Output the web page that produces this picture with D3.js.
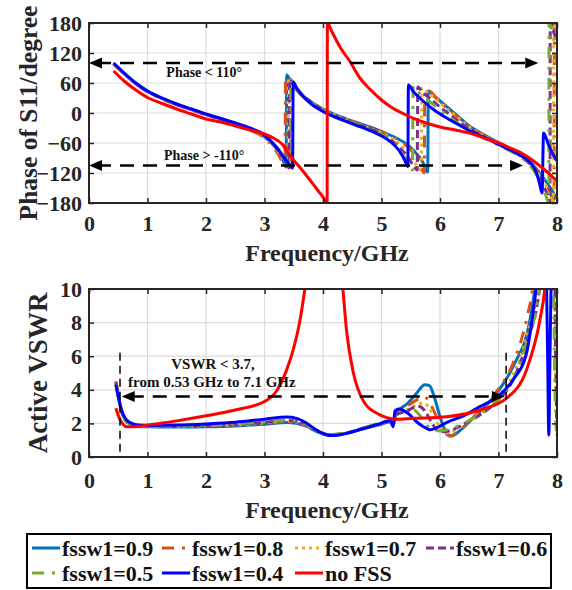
<!DOCTYPE html>
<html>
<head>
<meta charset="utf-8">
<script src="https://cdn.jsdelivr.net/npm/d3@7"></script>
<style>
body { margin: 0; background: #fff; }
svg { display: block; font-family: "Liberation Serif", "Times New Roman", serif; font-weight: bold; }
</style>
</head>
<body>
<svg id="fig" width="572" height="590"></svg>
<script>
// ---- data ----
const series_names = ['fssw1=0.9', 'fssw1=0.8', 'fssw1=0.7', 'fssw1=0.6', 'fssw1=0.5', 'fssw1=0.4', 'no FSS'];
const freq_ticks = [0, 1, 2, 3, 4, 5, 6, 7, 8];
const phase_ticks = [-180, -120, -60, 0, 60, 120, 180];
const vswr_ticks = [0, 2, 4, 6, 8, 10];

// phase of S11 (degree) vs frequency (GHz)
const phase09 = [[0.42,98],[0.6,79],[0.8,59],[1.0,43],[1.25,29],[1.5,17],[1.75,7],[2.0,-3],[2.25,-12],[2.5,-21],[2.75,-32],[3.0,-48],[3.12,-60],[3.25,-80],[3.33,-98],[3.37,-108],[3.38,76],[3.45,62],[3.6,40],[3.8,22],[4.0,8],[4.2,-3],[4.4,-12],[4.6,-20],[4.8,-28],[5.0,-37],[5.2,-47],[5.4,-60],[5.55,-75],[5.7,-97],[5.79,-118],[5.8,44],[5.9,34],[6.1,14],[6.3,-6],[6.5,-26],[6.7,-40],[6.9,-53],[7.1,-65],[7.3,-78],[7.5,-94],[7.65,-112],[7.78,-132],[7.9,-152],[8.0,-172]];
const phase08 = [[0.42,97],[0.6,78],[0.8,58],[1.0,42],[1.25,28],[1.5,16],[1.75,6],[2.0,-4],[2.25,-13],[2.5,-22],[2.75,-34],[3.0,-50],[3.12,-64],[3.24,-84],[3.31,-100],[3.35,-108],[3.36,72],[3.45,60],[3.6,39],[3.8,21],[4.0,7],[4.2,-4],[4.4,-13],[4.6,-21],[4.8,-29],[5.0,-38],[5.2,-48],[5.4,-62],[5.55,-80],[5.65,-98],[5.73,-120],[5.74,46],[5.82,44],[5.95,28],[6.1,12],[6.3,-8],[6.5,-27],[6.7,-41],[6.9,-54],[7.1,-66],[7.3,-79],[7.5,-95],[7.65,-114],[7.78,-136],[7.88,-158],[7.95,-180],[7.955,180],[8.0,140]];
const phase07 = [[0.42,98],[0.6,79],[0.8,59],[1.0,43],[1.25,29],[1.5,17],[1.75,7],[2.0,-3],[2.25,-12],[2.5,-21],[2.75,-32],[3.0,-47],[3.12,-60],[3.25,-80],[3.35,-100],[3.4,-110],[3.41,70],[3.5,56],[3.65,36],[3.8,22],[4.0,7],[4.2,-4],[4.4,-13],[4.6,-22],[4.8,-31],[5.0,-40],[5.2,-52],[5.35,-66],[5.5,-86],[5.62,-108],[5.68,-116],[5.69,50],[5.78,42],[5.95,26],[6.1,10],[6.3,-9],[6.5,-28],[6.7,-42],[6.9,-55],[7.1,-67],[7.3,-80],[7.5,-96],[7.65,-116],[7.78,-138],[7.88,-162],[7.94,-180],[7.945,180],[8.0,150]];
const phase06 = [[0.42,99],[0.6,79],[0.8,59],[1.0,43],[1.25,29],[1.5,17],[1.75,7],[2.0,-3],[2.25,-12],[2.5,-21],[2.75,-31],[3.0,-46],[3.12,-58],[3.25,-76],[3.36,-98],[3.42,-110],[3.43,68],[3.52,54],[3.66,35],[3.8,22],[4.0,6],[4.2,-5],[4.4,-14],[4.6,-23],[4.8,-32],[5.0,-42],[5.15,-53],[5.3,-68],[5.45,-88],[5.55,-106],[5.61,-114],[5.62,52],[5.7,42],[5.85,27],[6.0,12],[6.2,-6],[6.4,-24],[6.6,-38],[6.8,-50],[7.0,-62],[7.2,-74],[7.4,-88],[7.55,-104],[7.68,-124],[7.78,-148],[7.85,-168],[7.88,-180],[7.885,180],[7.95,160],[8.0,140]];
const phase05 = [[0.42,99],[0.6,80],[0.8,60],[1.0,44],[1.25,30],[1.5,18],[1.75,8],[2.0,-2],[2.25,-11],[2.5,-20],[2.75,-31],[3.0,-45],[3.12,-57],[3.25,-74],[3.37,-97],[3.44,-110],[3.45,66],[3.53,53],[3.66,35],[3.8,21],[4.0,5],[4.2,-6],[4.4,-15],[4.6,-24],[4.8,-33],[5.0,-43],[5.15,-55],[5.3,-72],[5.42,-94],[5.5,-110],[5.53,-114],[5.54,54],[5.62,43],[5.78,27],[5.95,11],[6.15,-7],[6.35,-24],[6.55,-38],[6.75,-50],[6.95,-61],[7.15,-73],[7.35,-86],[7.5,-100],[7.62,-118],[7.72,-140],[7.8,-162],[7.86,-180],[7.865,180],[7.95,150],[8.0,135]];
const phase04 = [[0.42,100],[0.6,80],[0.8,60],[1.0,44],[1.25,30],[1.5,18],[1.75,8],[2.0,-2],[2.25,-11],[2.5,-20],[2.75,-30],[3.0,-44],[3.1,-55],[3.2,-68],[3.32,-87],[3.42,-102],[3.48,-110],[3.49,62],[3.55,50],[3.66,33],[3.8,18],[4.0,3],[4.2,-8],[4.4,-17],[4.6,-26],[4.8,-35],[5.0,-46],[5.15,-57],[5.3,-75],[5.4,-95],[5.45,-107],[5.46,56],[5.55,42],[5.71,24],[5.9,6],[6.1,-9],[6.28,-21],[6.5,-35],[6.7,-46],[6.85,-54],[7.0,-63],[7.2,-74],[7.42,-88],[7.55,-100],[7.65,-120],[7.7,-140],[7.745,-160],[7.77,-40],[7.85,-62],[7.92,-80],[8.0,-96]];
const phaseNoFss = [[0.42,84],[0.6,64],[0.8,46],[1.0,31],[1.25,19],[1.5,8],[1.75,-2],[2.0,-12],[2.25,-18],[2.5,-26],[2.75,-34],[3.0,-42],[3.15,-50],[3.3,-62],[3.44,-86],[3.6,-108],[3.75,-130],[3.9,-153],[4.0,-168],[4.07,-180],[4.075,180],[4.15,163],[4.3,130],[4.45,105],[4.63,70],[4.8,48],[5.0,26],[5.15,13],[5.4,-3],[5.71,-18],[6.0,-28],[6.3,-35],[6.56,-42],[6.8,-52],[7.0,-60],[7.2,-70],[7.42,-82],[7.6,-96],[7.75,-110],[7.9,-125],[8.0,-136]];

// active VSWR vs frequency (GHz); values above 10 run off the top of the axes
const vswr09 = [[0.46,4.5],[0.5,3.7],[0.56,2.7],[0.62,2.2],[0.7,1.95],[0.84,1.82],[1.0,1.8],[1.5,1.78],[2.0,1.8],[2.5,1.85],[3.0,1.95],[3.4,2.05],[3.7,1.85],[3.9,1.5],[4.1,1.3],[4.4,1.4],[4.7,1.7],[5.0,1.95],[5.15,2.1],[5.2,1.9],[5.25,2.6],[5.45,3.2],[5.6,3.8],[5.74,4.3],[5.82,4.25],[5.9,3.6],[6.0,2.4],[6.1,1.5],[6.2,1.25],[6.35,1.6],[6.5,2.1],[6.68,2.7],[6.97,3.8],[7.25,5.4],[7.54,8.2],[7.62,10],[7.7,13],[8.0,13]];
const vswr08 = [[0.46,4.5],[0.5,3.7],[0.56,2.7],[0.62,2.2],[0.7,1.97],[0.84,1.85],[1.0,1.82],[1.5,1.82],[2.0,1.85],[2.5,1.9],[3.0,2.0],[3.4,2.1],[3.7,1.9],[3.9,1.55],[4.1,1.32],[4.4,1.42],[4.7,1.72],[5.0,1.98],[5.15,2.12],[5.2,1.95],[5.25,2.6],[5.45,3.05],[5.6,3.4],[5.72,3.6],[5.8,3.4],[5.9,2.7],[6.0,1.9],[6.1,1.4],[6.17,1.25],[6.3,1.5],[6.5,2.1],[6.68,2.8],[6.97,3.9],[7.25,5.6],[7.5,8.5],[7.58,10],[7.65,13],[8.0,13]];
const vswr07 = [[0.46,4.4],[0.5,3.6],[0.56,2.7],[0.62,2.2],[0.7,1.97],[0.84,1.85],[1.0,1.83],[1.5,1.83],[2.0,1.86],[2.5,1.92],[3.0,2.03],[3.4,2.15],[3.7,1.92],[3.9,1.55],[4.1,1.32],[4.4,1.42],[4.7,1.72],[5.0,2.0],[5.15,2.14],[5.2,1.95],[5.25,2.55],[5.45,2.85],[5.6,3.1],[5.7,3.2],[5.8,3.0],[5.9,2.4],[6.0,1.75],[6.1,1.45],[6.2,1.5],[6.4,1.9],[6.68,2.6],[6.97,3.5],[7.25,4.9],[7.5,7.4],[7.66,10],[7.72,13],[7.95,13],[7.98,4],[8.0,3]];
const vswr06 = [[0.46,4.4],[0.5,3.6],[0.56,2.7],[0.62,2.2],[0.7,1.98],[0.84,1.86],[1.0,1.84],[1.5,1.85],[2.0,1.88],[2.5,1.95],[3.0,2.06],[3.4,2.18],[3.7,1.95],[3.9,1.57],[4.1,1.33],[4.4,1.43],[4.7,1.73],[5.0,2.02],[5.15,2.15],[5.2,1.95],[5.25,2.5],[5.45,2.75],[5.55,2.95],[5.65,3.0],[5.75,2.7],[5.85,2.1],[5.95,1.6],[6.05,1.5],[6.2,1.6],[6.4,1.95],[6.68,2.5],[6.97,3.3],[7.25,4.6],[7.5,7.0],[7.7,10],[7.75,13],[7.95,13],[7.98,5],[8.0,1.3]];
const vswr05 = [[0.46,4.3],[0.5,3.5],[0.56,2.7],[0.62,2.2],[0.7,1.98],[0.84,1.87],[1.0,1.85],[1.5,1.86],[2.0,1.9],[2.5,1.97],[3.0,2.08],[3.4,2.2],[3.7,1.97],[3.9,1.58],[4.1,1.33],[4.4,1.43],[4.7,1.74],[5.0,2.03],[5.15,2.16],[5.2,1.95],[5.25,2.45],[5.4,2.7],[5.55,2.8],[5.65,2.5],[5.75,2.0],[5.85,1.65],[6.0,1.55],[6.15,1.65],[6.4,2.0],[6.68,2.55],[6.97,3.3],[7.25,4.6],[7.5,7.0],[7.7,10],[7.75,13],[7.93,13],[7.96,5],[7.99,1.6],[8.0,2]];
const vswr04 = [[0.46,4.3],[0.5,3.6],[0.56,2.75],[0.62,2.3],[0.7,2.05],[0.84,1.9],[1.0,1.88],[1.5,1.9],[2.0,1.97],[2.5,2.07],[3.0,2.25],[3.38,2.38],[3.55,2.3],[3.7,2.05],[3.85,1.7],[3.97,1.45],[4.12,1.28],[4.3,1.33],[4.5,1.5],[4.8,1.8],[5.0,2.02],[5.15,2.18],[5.2,1.8],[5.23,2.75],[5.3,2.85],[5.45,2.6],[5.6,2.1],[5.71,1.82],[5.83,1.62],[5.95,1.75],[6.11,2.05],[6.4,2.45],[6.68,3.0],[6.97,3.55],[7.25,4.6],[7.48,6.2],[7.59,8.6],[7.64,10],[7.7,13],[7.8,13],[7.84,6],[7.86,1.3],[7.88,6],[7.92,13],[8.0,13]];
const vswrNoFss = [[0.46,2.9],[0.52,2.3],[0.58,1.95],[0.65,1.8],[0.75,1.8],[1.0,1.9],[1.5,2.15],[2.0,2.45],[2.5,2.8],[3.0,3.3],[3.2,3.9],[3.38,5.2],[3.5,6.5],[3.6,8.0],[3.69,10],[3.8,13],[4.2,13],[4.34,10],[4.4,7.6],[4.52,5.0],[4.68,3.4],[4.92,2.6],[5.26,2.25],[5.54,2.3],[6.11,2.4],[6.68,2.8],[7.14,3.5],[7.48,5.2],[7.71,8.2],[7.79,10],[7.85,13],[8.0,13]];

// annotation values (data units)
const phase_upper_arrow = { level: 100, from: 0, to: 7.68, label: 'Phase < 110°', label_f: 1.97, label_v: 72 };
const phase_lower_arrow = { level: -105, from: 0, to: 7.42, label: 'Phase > -110°', label_f: 1.97, label_v: -94 };
const vswr_arrow = { level: 3.6, from: 0.56, to: 7.11 };
const vswr_band = [0.53, 7.13];
const vswr_labels = ['VSWR < 3.7,', 'from 0.53 GHz to 7.1 GHz'];

// ---- styles ----
const series_colors = ['#0072BD', '#D95319', '#EDB120', '#7E2F8E', '#77AC30', '#0000FF', '#FF0000'];
const series_dashes = [null, '12,8,3,8', '3,4', '8,4', '12,8,3,8', null, null];

class PanelChart {
    constructor (config, series) {
        this.config = {
            parent: config.parent,
            left: config.left, top: config.top,
            width: config.width, height: config.height,
            ydomain: config.ydomain,
            yticks: config.yticks,
            ylabel: config.ylabel,
            ylabel_x: config.ylabel_x,
            ylabel_size: config.ylabel_size,
            xlabel_pad: config.xlabel_pad,
            xtitle_y: config.xtitle_y,
            id: config.id,
        };
        this.series = series;
        this.init();
    }

    init() {
        let self = this;
        const c = self.config;

        self.chart = c.parent.append('g')
            .attr('transform', `translate(${c.left}, ${c.top})`);

        self.xscale = d3.scaleLinear().domain([0, 8]).range([0, c.width]);
        self.yscale = d3.scaleLinear().domain(c.ydomain).range([c.height, 0]);

        c.parent.append('defs').append('clipPath')
            .attr('id', c.id)
            .append('rect')
            .attr('width', c.width)
            .attr('height', c.height);

        // grid
        self.chart.append('g').selectAll('line.vx')
            .data(freq_ticks)
            .join('line')
            .attr('x1', d => self.xscale(d)).attr('x2', d => self.xscale(d))
            .attr('y1', 0).attr('y2', c.height)
            .attr('stroke', '#dcdcdc').attr('stroke-width', 1.2);
        self.chart.append('g').selectAll('line.hy')
            .data(c.yticks)
            .join('line')
            .attr('x1', 0).attr('x2', c.width)
            .attr('y1', d => self.yscale(d)).attr('y2', d => self.yscale(d))
            .attr('stroke', '#dcdcdc').attr('stroke-width', 1.2);

        self.plot = self.chart.append('g').attr('clip-path', `url(#${c.id})`);
        self.annot = self.chart.append('g');

        // axes with inward ticks on all four sides
        const xb = d3.axisBottom(self.xscale).tickValues(freq_ticks).tickSize(-5).tickSizeOuter(0).tickPadding(c.xlabel_pad).tickFormat(d3.format('d'));
        const xt = d3.axisTop(self.xscale).tickValues(freq_ticks).tickSize(-5).tickSizeOuter(0).tickFormat('');
        const yl = d3.axisLeft(self.yscale).tickValues(c.yticks).tickSize(-5).tickSizeOuter(0).tickPadding(7).tickFormat(d3.format('d'));
        const yr = d3.axisRight(self.yscale).tickValues(c.yticks).tickSize(-5).tickSizeOuter(0).tickFormat('');

        const groups = [
            self.chart.append('g').attr('transform', `translate(0, ${c.height})`).call(xb),
            self.chart.append('g').call(xt),
            self.chart.append('g').call(yl),
            self.chart.append('g').attr('transform', `translate(${c.width}, 0)`).call(yr),
        ];
        groups.forEach(g => {
            g.select('.domain').remove();
            g.selectAll('line').attr('stroke', '#262626').attr('stroke-width', 1.5);
            g.selectAll('text')
                .attr('fill', '#262626')
                .style('font-size', '22px')
                .style('font-family', '"Liberation Serif", serif')
                .style('font-weight', 'bold');
        });

        self.chart.append('rect')
            .attr('width', c.width).attr('height', c.height)
            .attr('fill', 'none')
            .attr('stroke', '#262626').attr('stroke-width', 2);

        // titles
        c.parent.append('text')
            .attr('x', c.left + c.width / 2 + 4)
            .attr('y', c.xtitle_y)
            .attr('text-anchor', 'middle')
            .style('font-size', '24px')
            .attr('fill', '#262626')
            .text('Frequency/GHz');

        c.parent.append('text')
            .attr('transform', `translate(${c.ylabel_x}, ${c.top + c.height / 2}) rotate(-90)`)
            .attr('text-anchor', 'middle')
            .style('font-size', c.ylabel_size + 'px')
            .attr('fill', '#262626')
            .text(c.ylabel);
    }

    render() {
        let self = this;
        const line = d3.line()
            .x(d => self.xscale(d[0]))
            .y(d => self.yscale(d[1]))
            .curve(d3.curveMonotoneX);

        self.plot.selectAll('path.series')
            .data(self.series)
            .join('path')
            .attr('class', 'series')
            .attr('d', d => line(d))
            .attr('fill', 'none')
            .attr('stroke', (d, i) => series_colors[i])
            .attr('stroke-width', 3)
            .attr('stroke-dasharray', (d, i) => series_dashes[i]);
    }

    arrow(level, from, to) {
        let self = this;
        const y = self.yscale(level);
        const x0 = self.xscale(from), x1 = self.xscale(to);
        self.annot.append('line')
            .attr('x1', x0 + 8).attr('x2', x1 - 8)
            .attr('y1', y).attr('y2', y)
            .attr('stroke', '#000').attr('stroke-width', 2.5)
            .attr('stroke-dasharray', '14,9');
        const head = (tip, dir) => `M${tip},${y} L${tip - dir * 13},${y - 5.5} L${tip - dir * 13},${y + 5.5} Z`;
        self.annot.append('path').attr('d', head(x0, -1)).attr('fill', '#000');
        self.annot.append('path').attr('d', head(x1, 1)).attr('fill', '#000');
    }

    label(text, f, v, size) {
        let self = this;
        self.annot.append('text')
            .attr('x', self.xscale(f))
            .attr('y', self.yscale(v))
            .attr('text-anchor', 'middle')
            .style('font-size', size + 'px')
            .attr('fill', '#111')
            .text(text);
    }

    vline(f, v0, v1) {
        let self = this;
        self.annot.append('line')
            .attr('x1', self.xscale(f)).attr('x2', self.xscale(f))
            .attr('y1', self.yscale(v0)).attr('y2', self.yscale(v1))
            .attr('stroke', '#000').attr('stroke-width', 1.5)
            .attr('stroke-dasharray', '8,5');
    }
}

const svg = d3.select('#fig');
svg.append('rect').attr('width', 572).attr('height', 590).attr('fill', '#fff');

const phase_chart = new PanelChart({
    parent: svg, id: 'clip-phase',
    left: 89, top: 23, width: 468, height: 180,
    ydomain: [-180, 180], yticks: phase_ticks,
    ylabel: 'Phase of S11/degree', ylabel_x: 37, ylabel_size: 25.5,
    xlabel_pad: 12, xtitle_y: 261,
}, [phase09, phase08, phase07, phase06, phase05, phase04, phaseNoFss]);
phase_chart.render();
phase_chart.arrow(phase_upper_arrow.level, phase_upper_arrow.from, phase_upper_arrow.to);
phase_chart.arrow(phase_lower_arrow.level, phase_lower_arrow.from, phase_lower_arrow.to);
phase_chart.label(phase_upper_arrow.label, phase_upper_arrow.label_f, phase_upper_arrow.label_v, 14);
phase_chart.label(phase_lower_arrow.label, phase_lower_arrow.label_f, phase_lower_arrow.label_v, 14);

const vswr_chart = new PanelChart({
    parent: svg, id: 'clip-vswr',
    left: 89, top: 289, width: 468, height: 168,
    ydomain: [0, 10], yticks: vswr_ticks,
    ylabel: 'Active VSWR', ylabel_x: 47, ylabel_size: 27,
    xlabel_pad: 15, xtitle_y: 518,
}, [vswr09, vswr08, vswr07, vswr06, vswr05, vswr04, vswrNoFss]);
vswr_chart.render();
vswr_chart.arrow(vswr_arrow.level, vswr_arrow.from, vswr_arrow.to);
vswr_chart.vline(vswr_band[0], 6.2, 0);
vswr_chart.vline(vswr_band[1], 6.2, 0.3);
vswr_chart.label(vswr_labels[0], 2.12, 5.25, 15);
vswr_chart.label(vswr_labels[1], 2.1, 4.15, 15);

// legend
const legend = svg.append('g');
legend.append('rect')
    .attr('x', 27).attr('y', 534).attr('width', 524).attr('height', 54)
    .attr('fill', '#fff').attr('stroke', '#000').attr('stroke-width', 2);
const legend_cols = [32, 162, 295, 426];
const legend_rows = [548, 573];
const legend_items = series_names.map((name, i) => ({
    name: name, i: i,
    x: legend_cols[i % 4], y: legend_rows[Math.floor(i / 4)],
}));
const item = legend.selectAll('g.item')
    .data(legend_items)
    .join('g')
    .attr('transform', d => `translate(${d.x}, ${d.y})`);
item.append('line')
    .attr('x1', 0).attr('x2', 28).attr('y1', 0).attr('y2', 0)
    .attr('stroke', d => series_colors[d.i])
    .attr('stroke-width', 3)
    .attr('stroke-dasharray', d => series_dashes[d.i]);
item.append('text')
    .attr('x', 30).attr('y', 7.5)
    .style('font-size', '22px')
    .attr('fill', '#111')
    .text(d => d.name);
</script>
</body>
</html>
